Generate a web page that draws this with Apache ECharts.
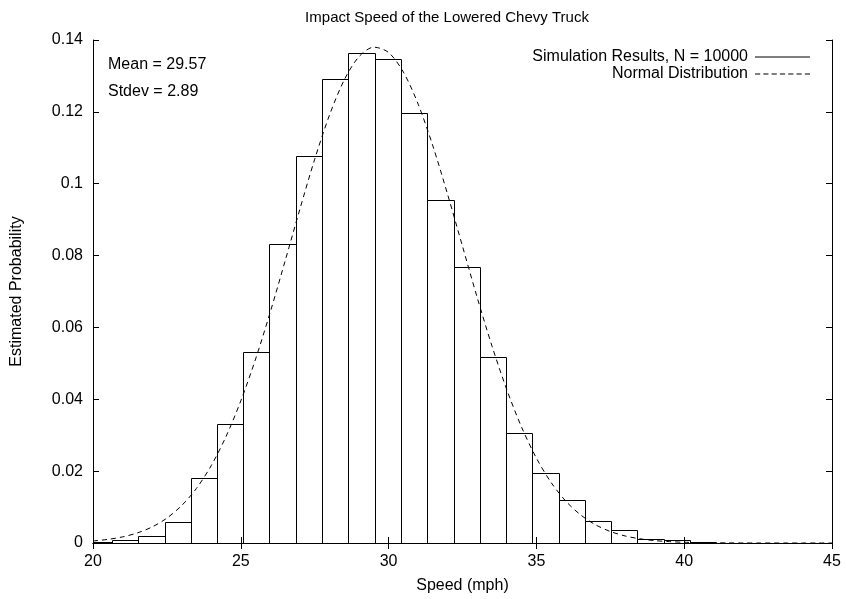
<!DOCTYPE html>
<html>
<head>
<meta charset="utf-8">
<script src="https://cdn.jsdelivr.net/npm/echarts@6/dist/echarts.min.js"></script>
<style>
  html, body { margin: 0; padding: 0; background: #fff; }
  #chart { width: 846px; height: 599px; }
</style>
</head>
<body>
<div id="chart"></div>
<script>
// Histogram bin edges (mph) and estimated probability density per bin
const speedBinEdges = [19.75, 20.64, 21.53, 22.42, 23.31, 24.20, 25.09, 25.97, 26.86, 27.75,
  28.64, 29.53, 30.42, 31.31, 32.20, 33.09, 33.98, 34.86, 35.75, 36.64, 37.53, 38.42,
  39.31, 40.20, 41.09];
const binProbability = [0.0003, 0.00095, 0.0019, 0.0059, 0.0182, 0.0331, 0.0533, 0.0833,
  0.1077, 0.1292, 0.1363, 0.1347, 0.1198, 0.0955, 0.0768, 0.0517, 0.0307, 0.0196, 0.0120,
  0.0060, 0.0035, 0.0010, 0.0007, 0.0002];

// Normal distribution curve samples (speed, density)
const normalSpeed = [20, 20.5, 21, 21.5, 22, 22.5, 23, 23.5, 24, 24.5, 25, 25.5, 26, 26.5,
  27, 27.5, 28, 28.5, 29, 29.5, 30, 30.5, 31, 31.5, 32, 32.5, 33, 33.5, 34, 34.5, 35, 35.5,
  36, 36.5, 37, 37.5, 38, 38.5, 39, 39.5, 40, 40.5, 41, 41.5, 42, 42.5, 43, 43.5, 44, 44.5, 45];
const normalDensity = [0.00057, 0.00100, 0.00170, 0.00280, 0.00447, 0.00693, 0.01042, 0.01520,
  0.02155, 0.02964, 0.03955, 0.05120, 0.06437, 0.07852, 0.09296, 0.10682, 0.11910, 0.12890,
  0.13538, 0.13800, 0.13652, 0.13107, 0.12214, 0.11045, 0.09693, 0.08258, 0.06825, 0.05476,
  0.04264, 0.03222, 0.02363, 0.01681, 0.01161, 0.00779, 0.00507, 0.00320, 0.00196, 0.00117,
  0.00067, 0.00038, 0.00021, 0.00011, 0.00006, 0.00003, 0.00001, 0, 0, 0, 0, 0, 0];

const meanSpeed = 29.57;
const stdevSpeed = 2.89;
const sampleCount = 10000;

const xTicks = [20, 25, 30, 35, 40, 45];
const yTicks = [0, 0.02, 0.04, 0.06, 0.08, 0.1, 0.12, 0.14];

const FONT = "'Liberation Sans', Arial, Helvetica, sans-serif";
const histName = 'Simulation Results, N = ' + sampleCount;
const normName = 'Normal Distribution';

const histData = binProbability.map((p, i) => [speedBinEdges[i], speedBinEdges[i + 1], p]);
const normData = normalSpeed.map((x, i) => [x, normalDensity[i]]);

// Snap a rectangle onto half pixels so 1px outlines stay crisp
function crisp(r) {
  const x0 = Math.round(r.x) + 0.5, y0 = Math.round(r.y) + 0.5;
  const x1 = Math.round(r.x + r.width) + 0.5, y1 = Math.round(r.y + r.height) + 0.5;
  return { x: x0, y: y0, width: x1 - x0, height: y1 - y0 };
}

// Dashed legend sample built from short bars
let dashPath = 'path://';
for (let i = 0; i < 7; i++) dashPath += 'M' + (i * 8) + ',0h5v1h-5z';
const solidPath = 'path://M0,0h53v1h-53z';

const axisCommon = {
  type: 'value', min: 20, max: 45, interval: 5,
  axisLine: { show: true, lineStyle: { color: '#000', width: 1 } },
  axisTick: { show: true, inside: true, length: 6, lineStyle: { color: '#000' } },
  splitLine: { show: false },
  z: 5
};

const chart = echarts.init(document.getElementById('chart'), null, { renderer: 'canvas' });
chart.setOption({
  animation: false,
  backgroundColor: '#fff',
  textStyle: { fontFamily: FONT, color: '#000' },
  title: {
    text: 'Impact Speed of the Lowered Chevy Truck',
    left: 442, top: 5, textAlign: 'center',
    textStyle: { fontFamily: FONT, fontSize: 15, fontWeight: 'normal', color: '#000' }
  },
  grid: { left: 93, right: 14, top: 40, bottom: 56 },
  legend: {
    orient: 'vertical', align: 'right', right: 31, top: 44,
    itemWidth: 55, itemHeight: 1, itemGap: 1,
    symbolKeepAspect: false, selectedMode: false,
    textStyle: { fontFamily: FONT, fontSize: 16, color: '#000', padding: [0, 2, 0, 0] },
    data: [
      { name: histName, icon: solidPath, itemStyle: { color: '#000', borderWidth: 0 } },
      { name: normName, icon: dashPath, itemStyle: { color: '#000', borderWidth: 0 } }
    ]
  },
  graphic: [
    { type: 'text', left: 108, top: 57, style: { text: 'Mean = ' + meanSpeed, font: '16px ' + FONT, fill: '#000' } },
    { type: 'text', left: 108, top: 84, style: { text: 'Stdev = ' + stdevSpeed, font: '16px ' + FONT, fill: '#000' } }
  ],
  xAxis: [
    Object.assign({}, axisCommon, {
      position: 'bottom',
      name: 'Speed (mph)', nameLocation: 'middle', nameGap: 35,
      nameTextStyle: { fontFamily: FONT, fontSize: 16, color: '#000' },
      axisLabel: {
        fontFamily: FONT, fontSize: 16, color: '#000', margin: 11,
        customValues: xTicks, formatter: v => String(v)
      }
    }),
    Object.assign({}, axisCommon, { position: 'top', axisLabel: { show: false } })
  ],
  yAxis: [
    Object.assign({}, axisCommon, {
      min: 0, max: 0.14, interval: 0.02, position: 'left',
      name: 'Estimated Probability', nameLocation: 'middle', nameGap: 68,
      nameTextStyle: { fontFamily: FONT, fontSize: 16, color: '#000' },
      axisLabel: {
        fontFamily: FONT, fontSize: 16, color: '#000', margin: 10,
        formatter: v => String(parseFloat(v.toFixed(2)))
      }
    }),
    Object.assign({}, axisCommon, { min: 0, max: 0.14, interval: 0.02, position: 'right', axisLabel: { show: false } })
  ],
  series: [
    {
      name: histName,
      type: 'custom',
      xAxisIndex: 0, yAxisIndex: 0,
      data: histData,
      encode: { x: [0, 1], y: 2 },
      itemStyle: { color: '#000' },
      renderItem(params, api) {
        const a = api.coord([api.value(0), api.value(2)]);
        const b = api.coord([api.value(1), 0]);
        const cs = params.coordSys;
        const r = echarts.graphic.clipRectByRect(
          { x: a[0], y: a[1], width: b[0] - a[0], height: b[1] - a[1] },
          { x: cs.x, y: cs.y, width: cs.width, height: cs.height }
        );
        if (!r) return null;
        return {
          type: 'rect',
          shape: crisp(r),
          style: { fill: '#fff', stroke: '#000', lineWidth: 1 }
        };
      },
      z: 2
    },
    {
      name: normName,
      type: 'line',
      xAxisIndex: 0, yAxisIndex: 0,
      data: normData,
      showSymbol: false, symbol: 'none',
      smooth: 0.3,
      lineStyle: { color: '#000', width: 1, type: [5, 4] },
      itemStyle: { color: '#000' },
      z: 3
    }
  ]
});
</script>
</body>
</html>
